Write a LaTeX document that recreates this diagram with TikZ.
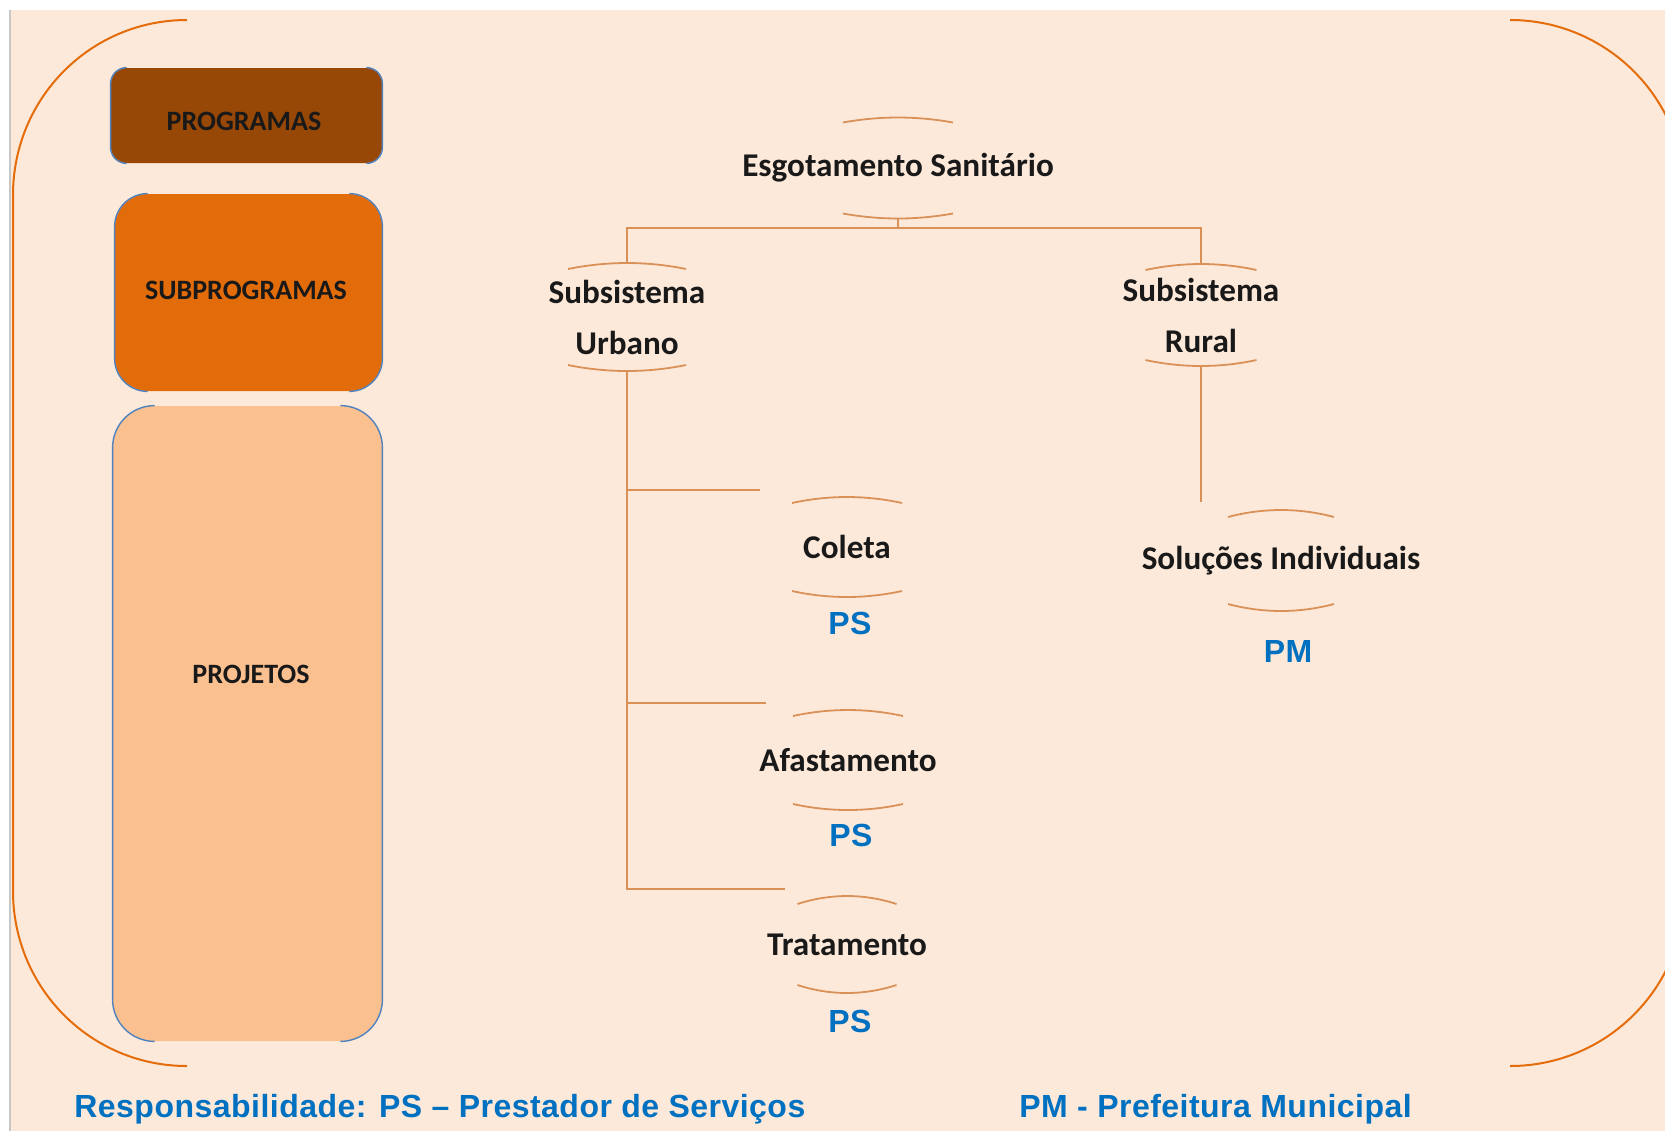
\documentclass[tikz,border=0pt]{standalone}
\usepackage{fontspec}
\setmainfont{Carlito}
\newfontfamily\arialfont[LetterSpace=1.5]{Liberation Sans}
\usetikzlibrary{calc}
\definecolor{bg}{RGB}{253,233,218}
\definecolor{framec}{RGB}{228,108,10}
\definecolor{progc}{RGB}{151,71,6}
\definecolor{subc}{RGB}{227,108,10}
\definecolor{projc}{RGB}{250,192,143}
\definecolor{edgec}{RGB}{79,129,189}
\definecolor{treec}{RGB}{218,145,88}
\definecolor{psblue}{RGB}{0,112,192}
\tikzset{
  frameline/.style={draw=framec, line width=1pt},
  lvlbox/.style={inner sep=0pt, font=\bfseries\fontsize{14}{16}\selectfont, text=black!90},
  edgeline/.style={draw=edgec, line width=0.7pt},
  item/.style={inner sep=0pt, align=center, font=\bfseries\fontsize{16.6}{25.5}\selectfont, text=black!90},
  arcline/.style={draw=treec, line width=0.9pt},
  treeline/.style={draw=treec, line width=1.1pt},
  resp/.style={inner sep=0pt, font=\arialfont\bfseries\fontsize{16}{18}\selectfont, text=psblue},
}
\newcommand\brarcs[4]{%
  \draw[arcline] ($(#1)+(-#2,-#3)$) parabola bend ($(#1)+(0,-#3-#4)$) ($(#1)+(#2,-#3)$);
  \draw[arcline] ($(#1)+(-#2,#3)$) parabola bend ($(#1)+(0,#3+#4)$) ($(#1)+(#2,#3)$);
  \coordinate (#1-t) at ($(#1)+(0,-#3-#4)$);
  \coordinate (#1-b) at ($(#1)+(0,#3+#4)$);
}
\begin{document}
\begin{tikzpicture}[x=0.5pt,y=-0.5pt]
\useasboundingbox (0,0) rectangle (1665,1131);
\clip (0,0) rectangle (1665,1131);
\fill[white] (0,0) rectangle (1665,1131);
\fill[bg] (10,10) rectangle (1665,1131);
\draw[black!22, line width=0.8pt] (10,10) -- (10,1131);

% outer frame
\draw[frameline] (187,20) .. controls (90.3,20) and (13,98.3) .. (13,195) -- (13,891) .. controls (13,987.7) and (90.3,1066) .. (187,1066);
\draw[frameline] (1510,20) .. controls (1606.7,20) and (1685,98.3) .. (1685,195) -- (1685,891) .. controls (1685,987.7) and (1606.7,1066) .. (1510,1066);

% level boxes
\node[lvlbox, fill=progc, minimum width=135.5pt, minimum height=47.5pt, rounded corners=8pt] (prog) at (246.5,115.5) {};
\draw[edgeline, rounded corners=8pt] ($(prog.north west)+(16,0)$) -- (prog.north west) -- (prog.south west) -- ($(prog.south west)+(16,0)$);
\draw[edgeline, rounded corners=8pt] ($(prog.north east)+(-16,0)$) -- (prog.north east) -- (prog.south east) -- ($(prog.south east)+(-16,0)$);
\node[lvlbox] (progtxt) at (244,121) {PROGRAMAS};

\node[lvlbox, fill=subc, minimum width=133.5pt, minimum height=98.5pt, rounded corners=16.5pt] (subp) at (248.5,292.5) {};
\draw[edgeline, rounded corners=16.5pt] ($(subp.north west)+(33,0)$) -- (subp.north west) -- (subp.south west) -- ($(subp.south west)+(33,0)$);
\draw[edgeline, rounded corners=16.5pt] ($(subp.north east)+(-33,0)$) -- (subp.north east) -- (subp.south east) -- ($(subp.south east)+(-33,0)$);
\node[lvlbox] (subptxt) at (246,290) {SUBPROGRAMAS};

\node[lvlbox, fill=projc, minimum width=134.5pt, minimum height=317.5pt, rounded corners=21pt] (proj) at (247.5,723.5) {};
\draw[edgeline, rounded corners=21pt] ($(proj.north west)+(42,0)$) -- (proj.north west) -- (proj.south west) -- ($(proj.south west)+(42,0)$);
\draw[edgeline, rounded corners=21pt] ($(proj.north east)+(-42,0)$) -- (proj.north east) -- (proj.south east) -- ($(proj.south east)+(-42,0)$);
\node[lvlbox] (projtxt) at (251,674) {PROJETOS};

% tree items
\node[item] (es) at (898,168) {Esgotamento Sanitário};
\brarcs{es}{55}{45.5}{5}
\node[item] (urb) at (627,317) {Subsistema\\Urbano};
\brarcs{urb}{59}{48}{6}
\node[item] (rur) at (1201,315) {Subsistema\\Rural};
\brarcs{rur}{55.5}{45}{6}
\node[item] (sol) at (1281,560.5) {Soluções Individuais};
\brarcs{sol}{53}{43.5}{7}
\node[item] (col) at (847,547) {Coleta};
\brarcs{col}{55}{44}{6}
\node[item] (afa) at (848,760) {Afastamento};
\brarcs{afa}{55}{44}{6}
\node[item] (tra) at (847,944.5) {Tratamento};
\brarcs{tra}{49.5}{40.5}{8}

% responsibility labels
\node[resp] (ps1) at (850,623) {PS};
\node[resp] (ps2) at (851,835) {PS};
\node[resp] (ps3) at (850,1021) {PS};
\node[resp] (pm) at (1288,651) {PM};

% connectors
\coordinate (bus) at (898,228);
\coordinate (u1) at (760,490);
\coordinate (u2) at (766,703);
\coordinate (u3) at (785,889);
\coordinate (rend) at (1201,502);
\draw[treeline] (es-b) -- (bus);
\draw[treeline] (bus) -| (urb-t);
\draw[treeline] (bus) -| (rur-t);
\draw[treeline] (urb-b) |- (u3);
\draw[treeline] (urb-b |- u1) -- (u1);
\draw[treeline] (urb-b |- u2) -- (u2);
\draw[treeline] (rur-b) -- (rend);

% footer
\node[resp, anchor=west] (foot1) at (74,1109) {Responsabilidade: PS – Prestador de Serviços};
\node[resp, anchor=west] (foot2) at (1019,1109) {PM - Prefeitura Municipal};
\end{tikzpicture}
\end{document}
